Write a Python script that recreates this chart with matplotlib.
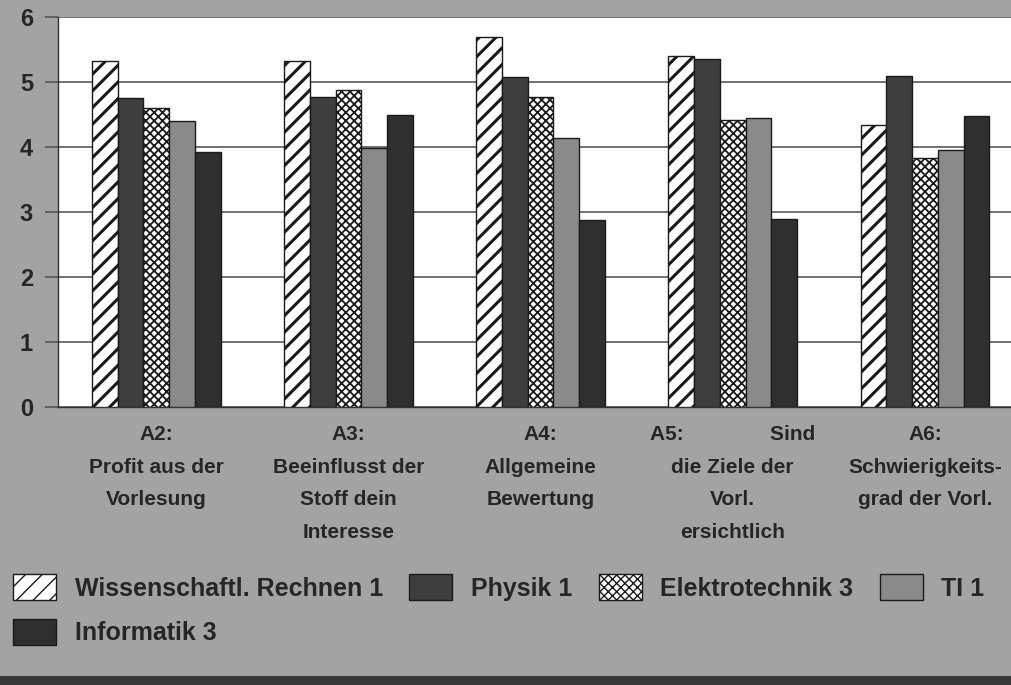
"""Grouped bar chart: course evaluation scores (A2-A6) for five lectures."""
import matplotlib
matplotlib.use("Agg")
import matplotlib.pyplot as plt
from matplotlib.patches import Rectangle
import numpy as np

plt.rcParams["font.family"] = ["Liberation Sans", "DejaVu Sans"]

questions = [
    "A2:\nProfit aus der\nVorlesung",
    "A3:\nBeeinflusst der\nStoff dein\nInteresse",
    "A4:\nAllgemeine\nBewertung",
    "A5:               Sind\ndie Ziele der\nVorl.\nersichtlich",
    "A6:\nSchwierigkeits-\ngrad der Vorl.",
]
courses = ["Wissenschaftl. Rechnen 1", "Physik 1", "Elektrotechnik 3", "TI 1", "Informatik 3"]

wiss_rechnen = [5.32, 5.32, 5.70, 5.40, 4.34]
physik = [4.75, 4.77, 5.08, 5.35, 5.10]
elektrotechnik = [4.60, 4.88, 4.77, 4.42, 3.83]
ti = [4.40, 3.98, 4.14, 4.44, 3.95]
informatik = [3.92, 4.50, 2.88, 2.90, 4.47]

series = [wiss_rechnen, physik, elektrotechnik, ti, informatik]
faces = ["white", "#3e3e3e", "white", "#8a8a8a", "#2f2f2f"]
hatches = ["//", None, "xxxx", None, None]
hatch_lw = [2.2, 1.0, 1.3, 1.0, 1.0]

BG = "#a3a3a3"
INK = "#262626"

fig = plt.figure(figsize=(10.12, 6.85), dpi=100, facecolor=BG)
ax = fig.add_axes([58 / 1012, 1 - 407 / 685, 963 / 1012, 390 / 685])
ax.set_facecolor("white")

x = np.arange(len(questions))
width = 0.134
handles = []
for i, (vals, fc, h) in enumerate(zip(series, faces, hatches)):
    with plt.rc_context({"hatch.linewidth": hatch_lw[i]}):
        bars = ax.bar(x + (i - 2) * width, vals, width, color=fc, hatch=h,
                      edgecolor="#1a1a1a", linewidth=1.0, label=courses[i], zorder=3)
    if hasattr(bars[0], "set_hatch_linewidth"):
        for b in bars:
            b.set_hatch_linewidth(hatch_lw[i])
    handles.append(bars)

ax.set_xlim(-0.511, 4.5)
ax.set_ylim(0, 6)
ax.set_yticks(range(7))
ax.yaxis.grid(True, color="#4a4a4a", linewidth=1.1, zorder=0)
ax.set_axisbelow(True)

ax.set_xticks(x)
ax.set_xticklabels(questions, linespacing=1.9, fontsize=15, fontweight="bold",
                   color=INK)
ax.tick_params(axis="x", length=0, pad=13)
ax.tick_params(axis="y", length=9.5, width=1.2, color="#555555", pad=8.5,
               labelsize=17, labelcolor=INK)
for t in ax.get_yticklabels():
    t.set_fontweight("bold")

for side in ("top", "right"):
    ax.spines[side].set_visible(False)
for side in ("left", "bottom"):
    ax.spines[side].set_color("#333333")
    ax.spines[side].set_linewidth(1.0)

# legend fills column by column, so put Informatik 3 second to land under the first entry
order = [0, 4, 1, 2, 3]
leg = fig.legend([handles[k] for k in order], [courses[k] for k in order],
                 loc="upper left", bbox_to_anchor=(13 / 1012, 1 - 574 / 685),
                 ncol=4, frameon=False, handlelength=1.72,
                 handleheight=1.25, handletextpad=0.75, columnspacing=1.05,
                 labelspacing=0.72, borderpad=0, borderaxespad=0,
                 prop={"weight": "bold", "size": 18})
for t in leg.get_texts():
    t.set_color(INK)

# dark strip along the lower edge
fig.patches.append(Rectangle((0, 0), 1, 9 / 685, transform=fig.transFigure,
                             facecolor="#383838", edgecolor="none"))

fig.savefig("out.png", dpi=100, facecolor=BG)
